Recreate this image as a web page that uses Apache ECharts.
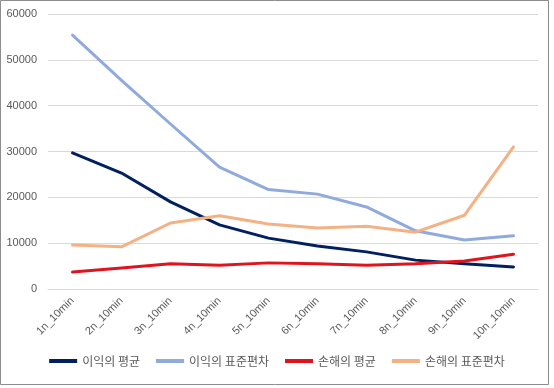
<!DOCTYPE html>
<html><head><meta charset="utf-8">
<script src="https://cdn.jsdelivr.net/npm/echarts@6/dist/echarts.min.js"></script>
<style>html,body{margin:0;padding:0;background:#fff;}#c{width:554px;height:388px;}</style>
</head><body><div id="c"></div>
<script>
var categories = ['1n_10min','2n_10min','3n_10min','4n_10min','5n_10min','6n_10min','7n_10min','8n_10min','9n_10min','10n_10min'];
var profitMean = [29700, 25300, 19000, 14000, 11100, 9400, 8100, 6300, 5500, 4800];
var profitStd = [55400, 45500, 36000, 26600, 21700, 20700, 17900, 12700, 10700, 11600];
var lossMean = [3700, 4600, 5500, 5200, 5700, 5500, 5200, 5500, 6100, 7600];
var lossStd = [9600, 9200, 14400, 16000, 14200, 13300, 13700, 12400, 16100, 31000];
var seriesNames = ['이익의 평균','이익의 표준편차','손해의 평균','손해의 표준편차'];
var colors = ['#002060','#8FAADC','#E0141E','#F4B183'];
var yTicks = {min:0, max:60000, interval:10000};

var chart = echarts.init(document.getElementById('c'));
var dataSets = [profitMean, profitStd, lossMean, lossStd];
chart.setOption({
  animation:false,
  color: colors,
  graphic:[{type:'rect', shape:{x:0.5,y:0.5,width:548,height:384}, style:{fill:null, stroke:'#8c8c8c', lineWidth:1}, silent:true}],
  grid:{left:48, right:16, top:14, bottom:99, containLabel:false},
  legend:{bottom:16, left:'center', itemWidth:28, itemHeight:4, itemGap:16, icon:'rect',
    textStyle:{fontFamily:'Noto Sans CJK KR', fontSize:12, color:'#595959'},
    data: seriesNames},
  xAxis:{type:'category', data:categories, boundaryGap:true,
    axisLine:{lineStyle:{color:'#d9d9d9'}}, axisTick:{show:false},
    axisLabel:{rotate:45, fontSize:11, color:'#595959', margin:10, interval:0, fontFamily:'Liberation Sans'}},
  yAxis:{type:'value', min:yTicks.min, max:yTicks.max, interval:yTicks.interval,
    axisLine:{show:false}, axisTick:{show:false},
    splitLine:{lineStyle:{color:'#d9d9d9'}},
    axisLabel:{fontSize:11, color:'#595959', margin:11, fontFamily:'Liberation Sans', formatter:function(v){return String(v);}}},
  series: dataSets.map(function(d,i){return {name:seriesNames[i], type:'line', data:d, showSymbol:false, symbol:'none', lineStyle:{width:3, color:colors[i], cap:'round', join:'round'}, itemStyle:{color:colors[i]}};})
});
</script></body></html>
